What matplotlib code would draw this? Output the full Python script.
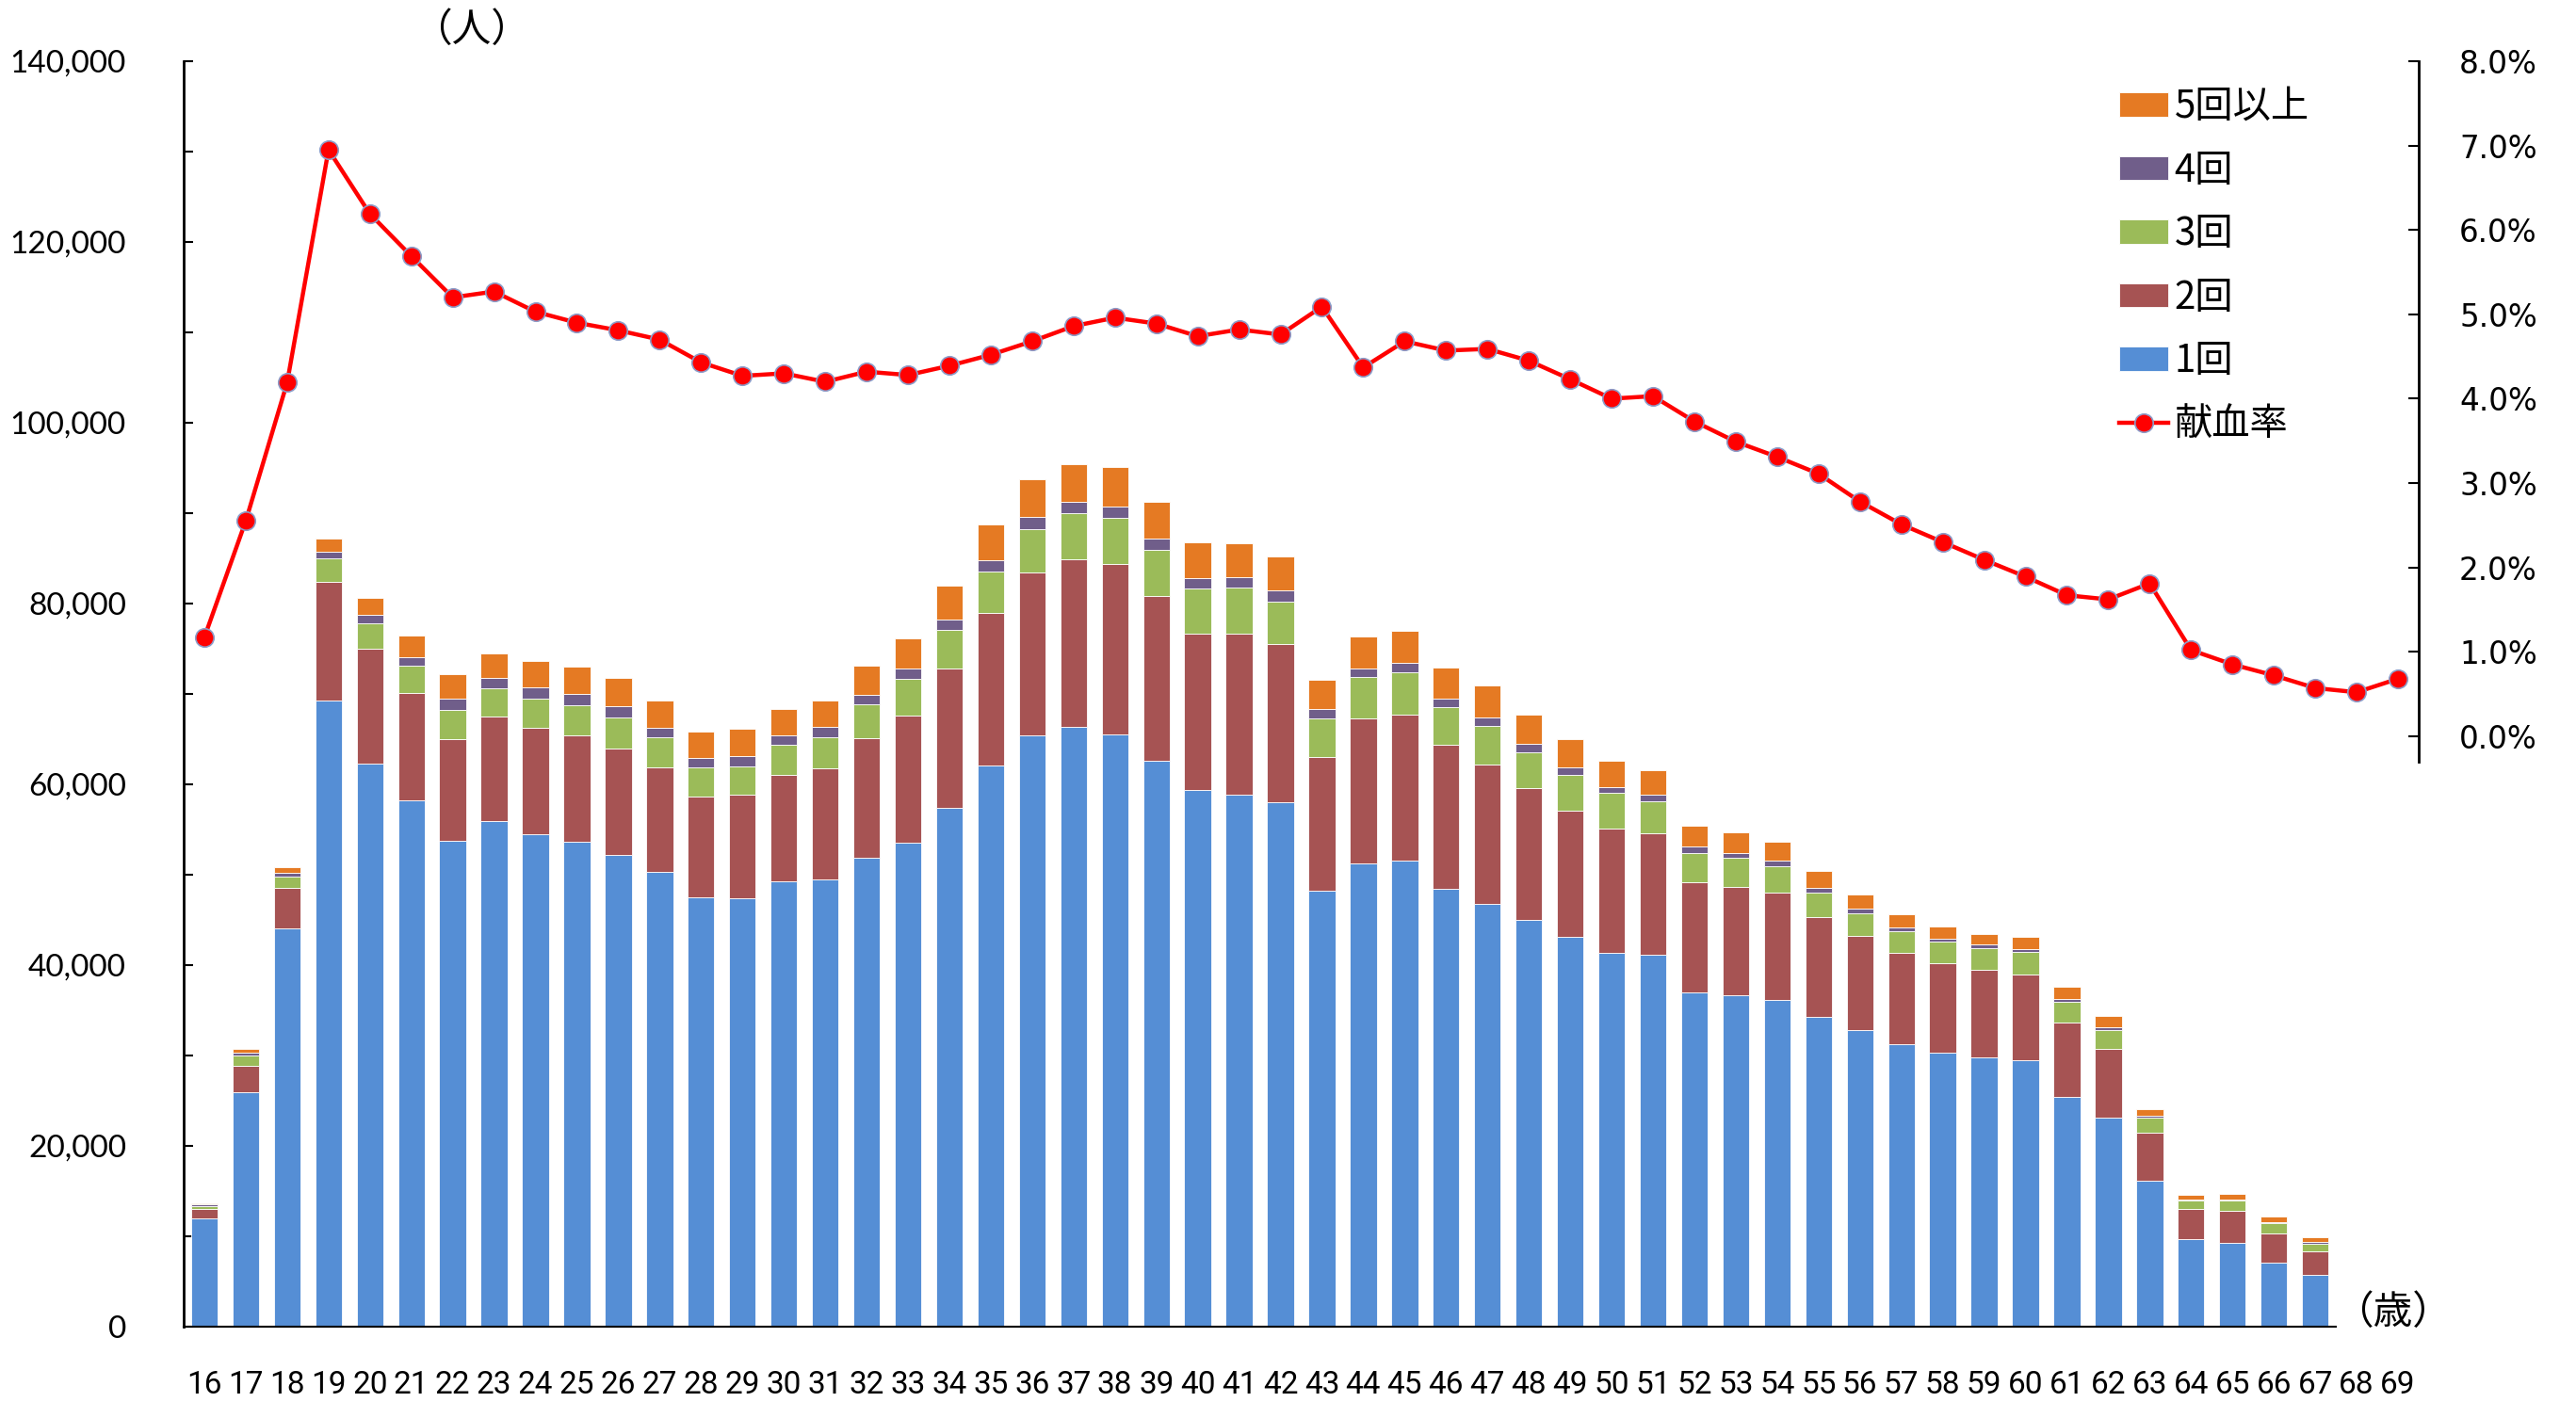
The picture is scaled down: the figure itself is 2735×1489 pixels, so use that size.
import matplotlib
matplotlib.use("Agg")
import matplotlib.pyplot as plt
from matplotlib.font_manager import FontProperties
from matplotlib.ticker import MultipleLocator, FuncFormatter

# age (years)
ages = list(range(16, 70))
bar_ages = list(range(16, 68))

# donors by number of donations in the year (persons)
once = [12000, 25900, 44100, 69300, 62300, 58200, 53800, 55900, 54500, 53650,
        52200, 50360, 47460, 47400, 49240, 49510, 51880, 53530, 57350, 62100,
        65390, 66380, 65520, 62620, 59330, 58870, 58010, 48190, 51290, 51550,
        48450, 46740, 44960, 43100, 41400, 41190, 37000, 36700, 36120, 34270,
        32780, 31230, 30310, 29740, 29470, 25400, 23160, 16150, 9650, 9310,
        7120, 5760]
twice = [1050, 3000, 4400, 13050, 12750, 11900, 11250, 11550, 11700, 11800,
         11800, 11500, 11210, 11470, 11800, 12260, 13250, 14100, 15490, 16810,
         18060, 18520, 18860, 18260, 17330, 17790, 17470, 14830, 16010, 16150,
         15890, 15420, 14630, 14000, 13700, 13350, 12120, 11930, 11900, 11060,
         10480, 10140, 9910, 9730, 9470, 8250, 7530, 5340, 3370, 3540,
         3190, 2570]
thrice = [300, 1100, 1300, 2650, 2750, 3000, 3200, 3150, 3300, 3300,
          3350, 3300, 3160, 3160, 3300, 3420, 3760, 4020, 4220, 4610,
          4820, 5080, 5070, 5080, 5010, 5150, 4740, 4280, 4550, 4680,
          4220, 4290, 3960, 3960, 3920, 3610, 3300, 3220, 2910, 2690,
          2510, 2370, 2380, 2420, 2470, 2290, 2120, 1600, 940, 1070,
          1110, 870]
four = [150, 350, 450, 700, 900, 1000, 1200, 1200, 1200, 1250,
        1300, 1050, 1060, 1120, 1050, 1120, 980, 1190, 1190, 1320,
        1310, 1320, 1320, 1250, 1190, 1120, 1190, 990, 990, 1050,
        920, 990, 920, 790, 710, 750, 660, 530, 660, 570,
        440, 400, 350, 360, 350, 330, 320, 240, 140, 180,
        180, 140]
five_plus = [150, 350, 600, 1450, 1900, 2400, 2700, 2700, 2900, 3050,
             3100, 3100, 2960, 2970, 2900, 2970, 3300, 3300, 3690, 3950,
             4160, 4150, 4290, 4090, 3960, 3750, 3820, 3230, 3560, 3500,
             3430, 3490, 3230, 3100, 2910, 2640, 2380, 2290, 2020, 1850,
             1630, 1450, 1280, 1140, 1410, 1320, 1210, 770, 480, 590,
             550, 560]

# donation rate (%)
rate = [1.17, 2.55, 4.19, 6.95, 6.19, 5.69, 5.20, 5.27, 5.03, 4.90,
        4.81, 4.70, 4.43, 4.27, 4.30, 4.20, 4.32, 4.28, 4.39, 4.52,
        4.68, 4.86, 4.96, 4.89, 4.74, 4.82, 4.76, 5.09, 4.37, 4.68,
        4.57, 4.59, 4.45, 4.23, 4.00, 4.03, 3.73, 3.49, 3.31, 3.11,
        2.78, 2.51, 2.30, 2.09, 1.89, 1.67, 1.62, 1.81, 1.02, 0.85,
        0.72, 0.57, 0.52, 0.68]

series = [("1回", once, "#558ED5"), ("2回", twice, "#A65353"),
          ("3回", thrice, "#9BBB59"), ("4回", four, "#705E8A"),
          ("5回以上", five_plus, "#E57A23")]

W, H = 2735, 1489
fig = plt.figure(figsize=(W / 100, H / 100), dpi=100)
ax = fig.add_axes([195 / W, 1 - 1409 / H, (2568 - 195) / W, (1409 - 65) / H])

bottom = [0] * len(bar_ages)
bars = {}
for name, vals, col in series:
    bars[name] = ax.bar(bar_ages, vals, width=0.645, bottom=bottom, color=col,
                        edgecolor="white", linewidth=0.6, label=name, zorder=2)
    bottom = [b + v for b, v in zip(bottom, vals)]

ax.set_xlim(15.5, 69.5)
ax.set_ylim(0, 140000)
ax.yaxis.set_major_locator(MultipleLocator(20000))
ax.yaxis.set_minor_locator(MultipleLocator(10000))
ax.yaxis.set_major_formatter(FuncFormatter(lambda v, p: f"{int(v):,}"))
ax.tick_params(axis="y", which="both", direction="in", length=7, width=1.5, pad=44)
for t in ax.get_yticklabels():
    t.set_fontproperties(FontProperties(family=["Lato", "DejaVu Sans"], size=24))

ax.set_xticks(ages)
ax.set_xticklabels([str(a) for a in ages])
ax.tick_params(axis="x", length=0, pad=33)
for t in ax.get_xticklabels():
    t.set_fontproperties(FontProperties(family=["Roboto", "DejaVu Sans"], size=24))

for s in ["top", "right"]:
    ax.spines[s].set_visible(False)
ax.spines["left"].set_linewidth(2.0)
ax.spines["bottom"].set_linewidth(1.5)
ax.spines["bottom"].set_bounds(15.5, 67.5)

ax2 = ax.twinx()
line, = ax2.plot(ages, rate, color="#FF0000", lw=3.2, marker="o", ms=14,
                 mfc="#FF0000", mec="#8C9CC8", mew=1.2, label="献血率", zorder=3)
ax2.set_ylim(-7, 8)
ax2.set_yticks(range(0, 9))
ax2.yaxis.set_major_formatter(FuncFormatter(lambda v, p: f"{v:.1f}%"))
ax2.tick_params(axis="y", direction="in", length=8, width=1.5, pad=31, labelsize=23.5)
for s in ["top", "left", "bottom"]:
    ax2.spines[s].set_visible(False)
ax2.spines["right"].set_linewidth(2.0)
ax2.spines["right"].set_bounds(-0.3, 8)

cjk = FontProperties(family=["Noto Sans CJK JP", "DejaVu Sans"], size=29)
handles = [bars["5回以上"], bars["4回"], bars["3回"], bars["2回"], bars["1回"], line]
labels = ["5回以上", "4回", "3回", "2回", "1回", "献血率"]
fig.legend(handles, labels, loc="upper left", bbox_to_anchor=(2250 / W, 1 - 93 / H),
           frameon=False, prop=cjk, handlelength=1.3, handleheight=0.6,
           handletextpad=0.15, labelspacing=0.66, borderpad=0, borderaxespad=0)

big = FontProperties(family=["Noto Sans CJK JP", "DejaVu Sans"], size=30)
fig.text(500 / W, 1 - 33 / H, "（人）", ha="center", va="center", fontproperties=big)
fig.text(2540 / W, 1 - 1395 / H, "（歳）", ha="center", va="center", fontproperties=big)

fig.savefig("out.png", dpi=100)
